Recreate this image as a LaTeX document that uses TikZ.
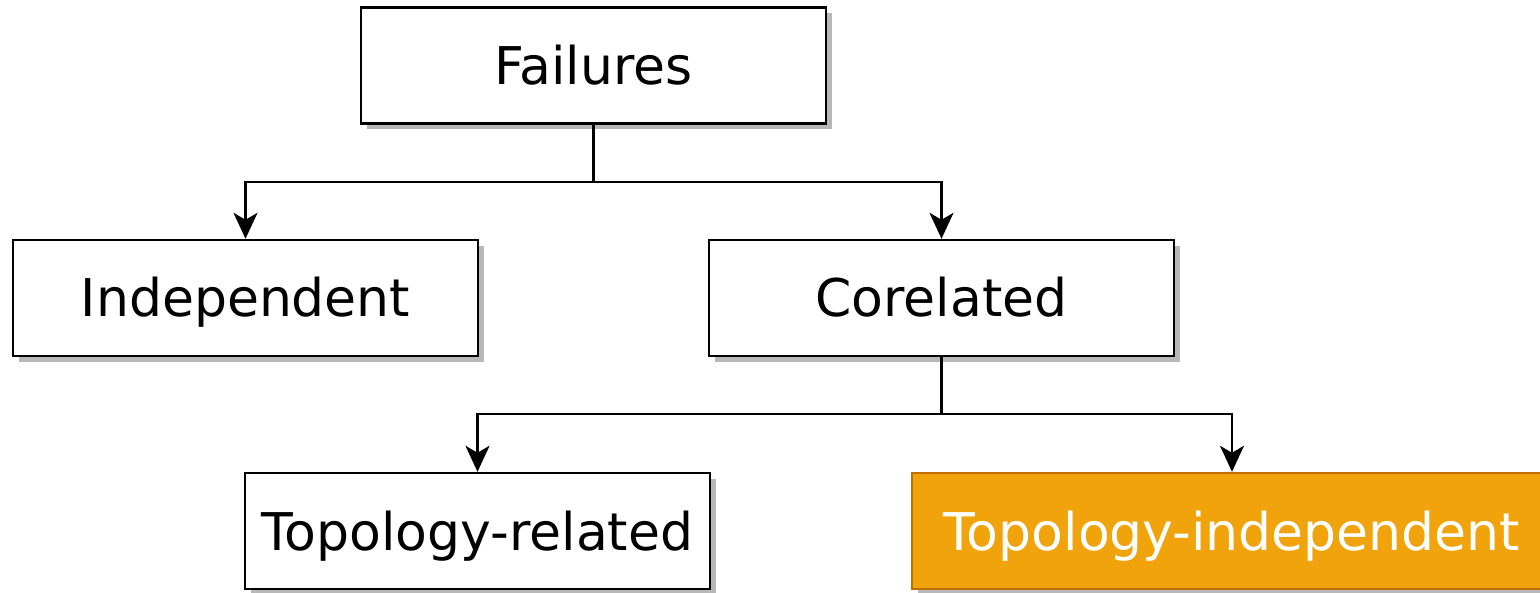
\documentclass[tikz,border=0pt]{standalone}
\usepackage{fontspec}
\setmainfont{DejaVu Sans}
\usetikzlibrary{arrows.meta,shadows}
\definecolor{orfill}{HTML}{F0A30A}
\definecolor{ordraw}{HTML}{BD7000}
\tikzset{
  box/.style={draw=black, line width=2.4pt, fill=white, minimum width=465pt, minimum height=116pt,
    inner sep=0pt, text height=38pt, text depth=0pt, font=\fontsize{52}{60}\selectfont,
    drop shadow={shadow xshift=6pt, shadow yshift=-6pt, fill=black!28, opacity=1}},
  orbox/.style={box, draw=ordraw, fill=orfill, text=white, minimum width=640pt},
  conn/.style={line width=2.4pt, -{Stealth[length=26pt,width=24pt,inset=7pt]}},
  stem/.style={line width=2.4pt}
}
\begin{document}
\begin{tikzpicture}[x=1pt,y=1pt]
\useasboundingbox (0,0) rectangle (1540,-593);
\begin{scope}
\clip (0,0) rectangle (1540,-593);
\node[box] (fail) at (593.5,-65.5) {Failures};
\node[box] (ind) at (245.5,-298) {Independent};
\node[box] (cor) at (941.5,-298) {Corelated};
\node[box] (trel) at (477.5,-531) {Topology-related};
\node[orbox] (tind) at (1232,-531) {Topology-independent};
\coordinate (j1) at (593.5,-182);
\coordinate (j2) at (941.5,-414);
\draw[stem] (fail.south) -- (j1);
\draw[conn] (j1) -| (ind.north);
\draw[conn] (j1) -| (cor.north);
\draw[stem] (cor.south) -- (j2);
\draw[conn] (j2) -| (trel.north);
\draw[conn] (j2) -| (tind.north);
\end{scope}
\end{tikzpicture}
\end{document}
